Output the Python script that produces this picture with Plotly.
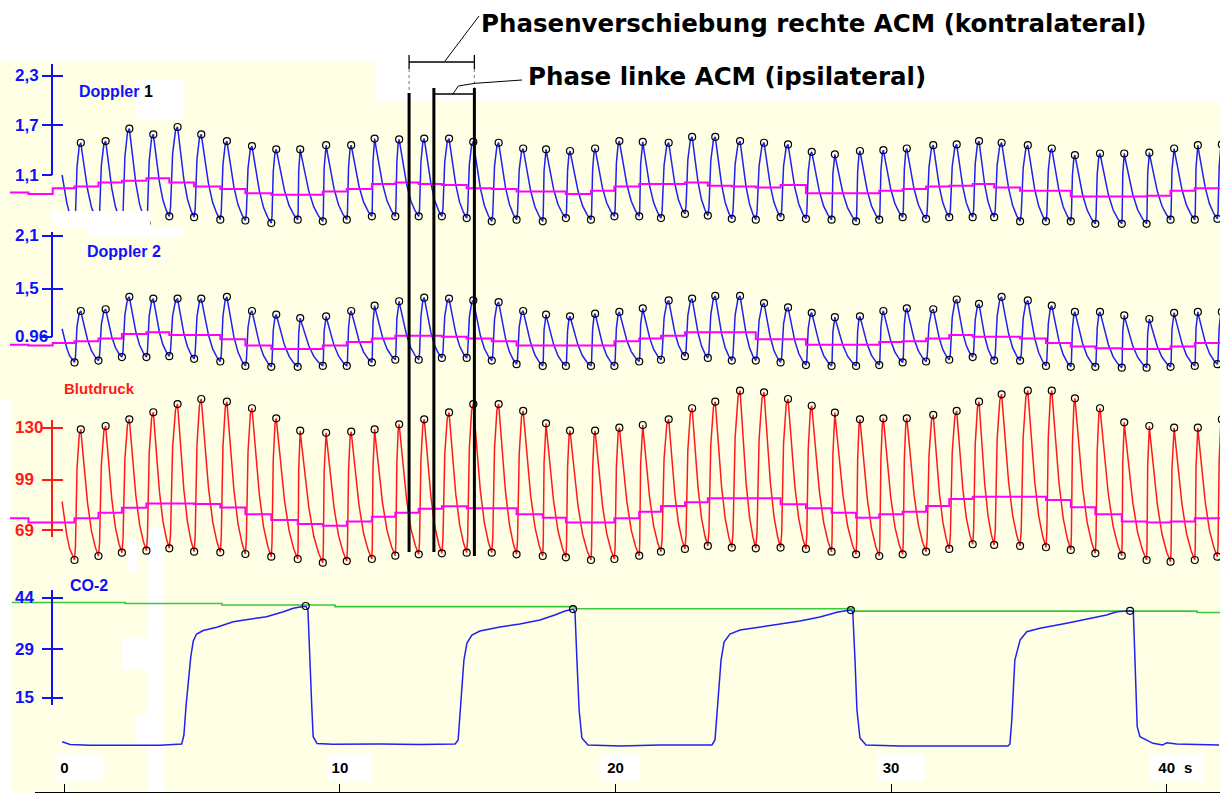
import plotly.graph_objects as go

W, H = 1220, 793

# ---------------------------------------------------------------- data
# beat timing in seconds: end-diastolic trough and systolic peak of each beat
trough_s = [0.37, 1.24, 2.09, 2.98, 3.81, 4.71, 5.66, 6.57, 7.51, 8.47,
            9.38, 10.25, 11.16, 12.01, 12.86, 13.70, 14.60, 15.51, 16.41, 17.36,
            18.20, 19.11, 19.96, 20.86, 21.65, 22.52, 23.35, 24.22, 25.09, 25.99,
            26.91, 27.84, 28.73, 29.57, 30.42, 31.27, 32.11, 32.96, 33.74, 34.68,
            35.62, 36.52, 37.41, 38.37, 39.27, 40.14, 41.02, 41.84]
peak_s = [0.60, 1.50, 2.36, 3.23, 4.11, 4.97, 5.90, 6.81, 7.69, 8.56,
          9.50, 10.41, 11.26, 12.15, 13.06, 13.96, 14.84, 15.76, 16.65, 17.48,
          18.35, 19.26, 20.14, 20.99, 21.93, 22.78, 23.62, 24.52, 25.39, 26.26,
          27.12, 27.96, 28.87, 29.72, 30.57, 31.53, 32.38, 33.19, 34.01, 34.96,
          35.83, 36.67, 37.58, 38.46, 39.37, 40.27, 41.13, 42.00]
start_s = -0.08

# beat-to-beat mean segments that precede the first recorded beat
pre_mean_s = [-1.97, -1.30, -0.42]

# Doppler 1 (rechte ACM)
d1_peak = [1.49, 1.51, 1.66, 1.59, 1.68, 1.59, 1.51, 1.45, 1.41, 1.41,
           1.46, 1.46, 1.54, 1.53, 1.54, 1.54, 1.50, 1.49, 1.42, 1.41,
           1.39, 1.42, 1.51, 1.50, 1.49, 1.56, 1.56, 1.51, 1.49, 1.47,
           1.38, 1.35, 1.39, 1.40, 1.42, 1.46, 1.47, 1.51, 1.49, 1.46,
           1.42, 1.34, 1.36, 1.36, 1.37, 1.42, 1.46, 1.47]
d1_trough = [0.52, 0.52, 0.52, 0.52, 0.60, 0.59, 0.56, 0.55, 0.52, 0.56,
             0.54, 0.56, 0.60, 0.60, 0.60, 0.60, 0.58, 0.54, 0.56, 0.54,
             0.58, 0.56, 0.60, 0.60, 0.58, 0.63, 0.61, 0.57, 0.56, 0.59,
             0.57, 0.56, 0.54, 0.56, 0.59, 0.57, 0.59, 0.59, 0.59, 0.54,
             0.54, 0.54, 0.51, 0.51, 0.51, 0.56, 0.56, 0.57]
d1_mean = [0.96, 1.01, 1.03, 1.06, 1.01, 0.96, 0.93, 0.88, 0.86, 0.86,
           0.90, 0.93, 0.99, 1.01, 0.99, 0.98, 0.94, 0.93, 0.90, 0.90,
           0.87, 0.91, 0.96, 0.99, 0.99, 1.01, 0.97, 0.96, 0.95, 0.98,
           0.88, 0.88, 0.88, 0.91, 0.93, 0.96, 0.97, 0.99, 0.95, 0.91,
           0.91, 0.84, 0.84, 0.84, 0.85, 0.91, 0.94, 0.94]
d1_pre_mean = [0.89, 0.87, 0.94]
d1_start = 1.10

# Doppler 2 (linke ACM)
d2_peak = [1.25, 1.27, 1.41, 1.39, 1.39, 1.39, 1.41, 1.25, 1.21, 1.17,
           1.19, 1.25, 1.31, 1.36, 1.40, 1.39, 1.37, 1.35, 1.25, 1.21,
           1.19, 1.22, 1.24, 1.28, 1.37, 1.39, 1.42, 1.42, 1.34, 1.29,
           1.23, 1.18, 1.19, 1.25, 1.28, 1.27, 1.38, 1.33, 1.41, 1.37,
           1.31, 1.24, 1.24, 1.20, 1.16, 1.23, 1.24, 1.24]
d2_trough = [0.67, 0.69, 0.73, 0.73, 0.74, 0.71, 0.68, 0.63, 0.62, 0.62,
             0.63, 0.63, 0.67, 0.70, 0.70, 0.72, 0.72, 0.69, 0.65, 0.63,
             0.63, 0.63, 0.63, 0.68, 0.70, 0.74, 0.72, 0.69, 0.69, 0.67,
             0.64, 0.63, 0.63, 0.64, 0.67, 0.68, 0.70, 0.73, 0.69, 0.69,
             0.63, 0.62, 0.62, 0.61, 0.61, 0.62, 0.63, 0.65]
d2_mean = [0.91, 0.94, 0.99, 1.01, 0.98, 0.98, 0.93, 0.86, 0.82, 0.82,
           0.86, 0.90, 0.94, 0.97, 0.97, 0.96, 0.94, 0.91, 0.86, 0.86,
           0.86, 0.86, 0.91, 0.94, 0.97, 1.01, 1.01, 1.01, 0.93, 0.93,
           0.87, 0.87, 0.87, 0.90, 0.91, 0.94, 0.98, 0.96, 0.96, 0.94,
           0.89, 0.85, 0.83, 0.82, 0.82, 0.85, 0.89, 0.89]
d2_pre_mean = [0.87, 0.86, 0.89]
d2_start = 1.05

# Blutdruck (mmHg)
bp_peak = [129.0, 131.0, 135.0, 139.2, 144.1, 147.1, 145.5, 141.6, 135.6, 128.2,
           127.0, 127.6, 129.0, 132.0, 135.0, 139.1, 144.0, 144.1, 140.0, 132.6,
           128.2, 128.2, 130.0, 131.6, 135.0, 141.6, 145.5, 152.1, 151.1, 147.1,
           143.1, 139.0, 135.0, 135.6, 135.6, 137.6, 140.0, 145.5, 149.9, 152.1,
           152.1, 147.5, 141.6, 133.2, 131.0, 130.0, 130.0, 135.0]
bp_trough = [51.1, 53.5, 55.5, 56.7, 58.1, 56.1, 55.7, 54.7, 53.1, 51.7,
             49.5, 50.5, 51.7, 53.7, 54.5, 55.1, 55.5, 55.5, 54.5, 53.5,
             52.7, 51.1, 51.7, 53.7, 56.1, 57.7, 59.5, 58.5, 58.1, 58.5,
             57.7, 56.1, 54.5, 53.5, 54.5, 56.1, 57.7, 60.5, 60.1, 59.5,
             58.7, 57.1, 55.1, 53.7, 51.1, 50.1, 51.1, 53.1]
bp_mean = [76.0, 79.3, 82.3, 84.8, 84.8, 84.5, 82.4, 78.4, 75.0, 72.6,
           71.6, 74.0, 76.9, 79.3, 81.7, 83.1, 81.9, 81.9, 78.4, 76.3,
           73.4, 73.4, 76.0, 79.9, 83.3, 85.5, 87.9, 87.9, 87.9, 84.3,
           81.9, 79.3, 76.3, 78.4, 79.9, 83.3, 87.5, 88.9, 88.9, 88.9,
           86.9, 82.5, 78.4, 74.0, 73.4, 74.0, 76.0, 76.0]
bp_pre_mean = [76.0, 73.4, 73.4]
bp_start = 86.0

# CO-2 (mmHg) capnogram
co2_s = [-0.08, 0.21, 0.93, 2.38, 3.47, 4.26, 4.34, 4.42, 4.50, 4.59,
         4.68, 4.80, 5.04, 5.53, 6.13, 6.74, 7.34, 7.95, 8.31, 8.66,
         8.77, 8.84, 8.91, 8.98, 9.03, 9.17, 9.75, 11.45, 12.91, 14.18,
         14.29, 14.39, 14.50, 14.61, 14.79, 15.08, 15.81, 16.53, 17.26, 17.80,
         18.17, 18.46, 18.53, 18.60, 18.68, 18.78, 19.00, 20.16, 21.61, 23.50,
         23.61, 23.72, 23.83, 23.94, 24.15, 24.52, 25.24, 25.97, 26.69, 27.42,
         28.07, 28.54, 28.61, 28.69, 28.76, 28.87, 29.09, 30.32, 32.50, 34.24,
         34.31, 34.38, 34.49, 34.68, 34.92, 35.40, 36.37, 37.10, 37.82, 38.19,
         38.67, 38.79, 38.85, 38.93, 39.03, 39.50, 39.86, 40.00, 40.36, 41.90]
co2_val = [2.24, 1.42, 1.19, 1.28, 1.19, 1.57, 4.18, 12.88, 20.13, 26.89,
           31.44, 33.47, 34.49, 35.42, 37.04, 37.74, 38.49, 39.94, 40.93, 41.45,
           41.45, 40.43, 23.03, 12.39, 3.69, 1.71, 1.48, 1.57, 1.42, 1.57,
           2.73, 14.33, 25.93, 30.86, 33.18, 34.34, 35.50, 36.37, 37.53, 38.98,
           40.14, 40.72, 39.85, 25.93, 11.43, 3.31, 1.28, 0.99, 1.28, 1.28,
           2.73, 14.33, 25.93, 31.15, 33.47, 34.63, 35.50, 36.37, 37.24, 38.40,
           39.85, 40.43, 39.85, 25.93, 11.43, 3.31, 1.28, 0.99, 0.99, 0.99,
           1.57, 8.53, 25.93, 31.73, 34.14, 35.13, 36.58, 37.74, 38.98, 39.94,
           40.23, 39.94, 26.89, 6.59, 3.69, 1.77, 1.28, 1.95, 1.57, 1.28]
co2_peak_s = [8.76, 18.46, 28.54, 38.67]
co2_peak_val = [41.6, 40.7, 40.4, 40.2]
etco2_s = [-1.90, 2.20, 5.72, 9.82, 18.53, 28.60, 41.10]
etco2_val = [42.6, 42.3, 41.9, 41.4, 40.8, 40.1, 39.7]

# time axis labels
time_ticks = [0, 10, 20, 30, 40]
time_labels = ["0", "10", "20", "30", "40"]

# pulse contour: upstroke (trough -> peak) and run-off (peak -> next trough),
# as fractions of the interval and of the beat amplitude
rise_t = [0.0, 0.15, 0.40, 0.75, 1.0]
rise_a = [0.0, 0.10, 0.70, 0.96, 1.0]
fall_t = [0.0, 0.06, 0.20, 0.38, 0.60, 0.82, 1.0]
fall_a = [1.0, 0.90, 0.68, 0.42, 0.20, 0.07, 0.0]

# ---------------------------------------------------------------- layout helpers
X0_PX, PX_PER_S = 64.3, 27.56          # time axis: 0 s position and scale
x_range = [(0 - X0_PX) / PX_PER_S, (W - X0_PX) / PX_PER_S]


def py(p):
    return 1 - p / H


def px(p):
    return p / W


def frame(cal_hi, cal_lo, top, bot):
    """Domain/range so that the two calibration values sit at the given pixel rows."""
    (v1, p1), (v2, p2) = cal_hi, cal_lo
    k = (p2 - p1) / (v1 - v2)

    def val(p):
        return v1 - (p - p1) / k
    return dict(domain=[py(bot), py(top)], range=[val(bot), val(top)])


def pulse_curve(start_v, peaks, troughs):
    xs, ys = [start_s], [start_v]
    for ft, fa in zip(fall_t[1:], fall_a[1:]):
        xs.append(start_s + ft * (trough_s[0] - start_s))
        ys.append(troughs[0] + fa * (start_v - troughs[0]))
    n = len(peaks)
    for i in range(n):
        tt, tp, vt, vp = trough_s[i], peak_s[i], troughs[i], peaks[i]
        for ft, fa in zip(rise_t[1:], rise_a[1:]):
            xs.append(tt + ft * (tp - tt))
            ys.append(vt + fa * (vp - vt))
        if i + 1 < n:
            tn, vn = trough_s[i + 1], troughs[i + 1]
            for ft, fa in zip(fall_t[1:], fall_a[1:]):
                xs.append(tp + ft * (tn - tp))
                ys.append(vn + fa * (vp - vn))
    return xs, ys


BLUE = "#2020F0"
LBLUE = "#1010FF"
RED = "#FF1A1A"
MAGENTA = "#FF00FF"
GREEN = "#3CC83C"
BG = "#FFFFE6"
AXFONT = "Liberation Sans"

channels = [
    dict(cal=((2.3, 75.7), (1.1, 175.0)), band=(60, 240), ax=(64, 175),
         ticks=[1.1, 1.7, 2.3], text=["1,1", "1,7", "2,3"], color=BLUE, tcol=LBLUE,
         peaks=d1_peak, troughs=d1_trough, mean=d1_mean, pre=d1_pre_mean, start=d1_start),
    dict(cal=((2.1, 235.7), (0.96, 336.7)), band=(225, 380), ax=(232, 336.7),
         ticks=[0.96, 1.5, 2.1], text=["0.96", "1,5", "2,1"], color=BLUE, tcol=LBLUE,
         peaks=d2_peak, troughs=d2_trough, mean=d2_mean, pre=d2_pre_mean, start=d2_start),
    dict(cal=((130, 427.7), (69, 530.0)), band=(370, 575), ax=(420, 537),
         ticks=[69, 99, 130], text=["69", "99", "130"], color=RED, tcol=RED,
         peaks=bp_peak, troughs=bp_trough, mean=bp_mean, pre=bp_pre_mean, start=bp_start),
    dict(cal=((44, 597.7), (15, 697.7)), band=(570, 790), ax=(590, 705),
         ticks=[15, 29, 44], text=["15", "29", "44"], color=BLUE, tcol=LBLUE),
]

fig = go.Figure()
circ = dict(symbol="circle-open", size=7, color="black", line=dict(width=1.2, color="black"))

for i, ch in enumerate(channels[:3]):
    ya = "y" if i == 0 else f"y{i + 1}"
    xs, ys = pulse_curve(ch["start"], ch["peaks"], ch["troughs"])
    fig.add_trace(go.Scatter(x=xs, y=ys, xaxis="x", yaxis=ya, mode="lines",
                             line=dict(color=ch["color"], width=1.5), hoverinfo="skip"))
    mx = pre_mean_s + trough_s + [x_range[1]]
    my = ch["pre"] + ch["mean"] + [ch["mean"][-1]]
    fig.add_trace(go.Scatter(x=mx, y=my, xaxis="x", yaxis=ya, mode="lines",
                             line=dict(color=MAGENTA, width=2, shape="hv"), hoverinfo="skip"))
    fig.add_trace(go.Scatter(x=peak_s + trough_s, y=ch["peaks"] + ch["troughs"],
                             xaxis="x", yaxis=ya, mode="markers", marker=circ,
                             hoverinfo="skip"))

# CO-2 channel
fig.add_trace(go.Scatter(x=etco2_s + [x_range[1]], y=etco2_val + [etco2_val[-1]],
                         xaxis="x", yaxis="y4", mode="lines",
                         line=dict(color=GREEN, width=1.6, shape="hv"), hoverinfo="skip"))
fig.add_trace(go.Scatter(x=co2_s, y=co2_val, xaxis="x", yaxis="y4", mode="lines",
                         line=dict(color=BLUE, width=1.5), hoverinfo="skip"))
fig.add_trace(go.Scatter(x=co2_peak_s, y=co2_peak_val, xaxis="x", yaxis="y4",
                         mode="markers", marker=circ, hoverinfo="skip"))

layout = dict(
    width=W, height=H, margin=dict(l=0, r=0, t=0, b=0, pad=0, autoexpand=False),
    paper_bgcolor=BG, plot_bgcolor="rgba(0,0,0,0)", showlegend=False,
    xaxis=dict(domain=[0, 1], range=x_range, visible=False, anchor="y"),
    xaxis2=dict(domain=[px(35), 1], range=[(35 - X0_PX) / PX_PER_S, x_range[1]],
                anchor="free", position=py(792), showline=True, linecolor="black",
                linewidth=1, ticks="inside", ticklen=8, tickcolor="black",
                tickvals=time_ticks, ticktext=time_labels,
                ticklabelposition="inside", ticklabelstandoff=8,
                showgrid=False, zeroline=False,
                tickfont=dict(family=AXFONT, size=15, color="black", weight="bold")),
)

axis_x = px(52.3)
for i, ch in enumerate(channels):
    key = "yaxis" if i == 0 else f"yaxis{i + 1}"
    f = frame(ch["cal"][0], ch["cal"][1], *ch["band"])
    layout[key] = dict(domain=f["domain"], range=f["range"], anchor="x", visible=False)

    g = frame(ch["cal"][0], ch["cal"][1], *ch["ax"])
    n_lab, n_out = 5 + i, 9 + i
    layout[f"yaxis{n_lab}"] = dict(
        domain=g["domain"], range=g["range"], anchor="free", position=axis_x,
        showline=True, linecolor=ch["tcol"], linewidth=1.5, showgrid=False, zeroline=False,
        ticks="inside", ticklen=10, tickwidth=1.5, tickcolor=ch["tcol"],
        tickvals=ch["ticks"], showticklabels=False)
    layout[f"yaxis{n_out}"] = dict(
        overlaying=f"y{n_lab}", range=g["range"], anchor="free", position=axis_x,
        showline=False, showgrid=False, zeroline=False, showticklabels=False,
        ticks="outside", ticklen=10, tickwidth=1.5, tickcolor=ch["tcol"],
        tickvals=ch["ticks"])
    for n in (n_lab, n_out):
        fig.add_trace(go.Scatter(x=[None], y=[None], xaxis="x2", yaxis=f"y{n}",
                                 mode="lines", hoverinfo="skip"))
    # tick labels, left-aligned in the margin at the tick values
    for v, s in zip(ch["ticks"], ch["text"]):
        fig.add_annotation(text=s, xref="paper", yref=f"y{n_lab}", x=px(13), y=v,
                           xanchor="left", yanchor="middle", showarrow=False,
                           font=dict(family=AXFONT, size=17, color=ch["tcol"],
                                     weight="bold"))

fig.update_layout(**layout)

# white areas on the recording sheet
sheet_white = [(0, 0, 1220, 62), (375, 62, 1220, 101), (135, 80, 183, 120),
               (148, 527, 164, 793), (122, 637, 148, 670), (135, 715, 148, 748),
               (127, 540, 137, 572), (0, 400, 11, 793),
               (55, 754, 103, 781), (328, 754, 372, 781), (600, 754, 640, 781),
               (878, 754, 925, 781), (1150, 754, 1203, 781)]
for x0, y0, x1, y1 in sheet_white:
    fig.add_shape(type="rect", xref="paper", yref="paper", layer="below",
                  x0=px(x0), x1=px(x1), y0=py(y1), y1=py(y0),
                  fillcolor="white", line=dict(width=0))
for x0, y0, x1, y1 in [(52, 211, 150, 228), (90, 227, 182, 237)]:
    fig.add_shape(type="rect", xref="paper", yref="paper", layer="above",
                  x0=px(x0), x1=px(x1), y0=py(y1), y1=py(y0),
                  fillcolor="white", line=dict(width=0))

# phase markers (time in s, top and bottom rows)
phase_lines = [(12.51, 93, 552), (13.41, 88, 552), (14.88, 88, 556)]
for t, top, bot in phase_lines:
    fig.add_shape(type="line", xref="x", yref="paper", x0=t, x1=t,
                  y0=py(bot), y1=py(top), line=dict(color="black", width=3))
t1, t2, t3 = (p[0] for p in phase_lines)
thin = dict(color="black", width=1.3)
dots = dict(color="#777777", width=1, dash="dot")
for seg in [
    (t1, 62, t3, 62, thin), (t1, 55, t1, 69, thin), (t3, 55, t3, 69, thin),
    (t2, 94, t3, 94, thin), (t1, 69, t1, 93, dots), (t3, 69, t3, 88, dots),
]:
    xa, ya_, xb, yb, ln = seg
    fig.add_shape(type="line", xref="x", yref="paper", x0=xa, x1=xb,
                  y0=py(ya_), y1=py(yb), line=ln)
fig.add_shape(type="line", xref="paper", yref="paper", x0=px(445), y0=py(61),
              x1=px(479), y1=py(16), line=dict(color="black", width=1))
fig.add_shape(type="path", xref="paper", yref="paper",
              path=f"M {px(452.7)},{py(94.3)} L {px(458.3)},{py(86)} "
                   f"L {px(475)},{py(83.3)} L {px(522)},{py(80)}",
              line=dict(color="black", width=1))

TITLE = "DejaVu Sans"
ann = [
    dict(text="Phasenverschiebung rechte ACM (kontralateral)", x=479, y=23,
         size=24.5, color="black", family=TITLE),
    dict(text="Phase linke ACM (ipsilateral)", x=526, y=76,
         size=24.5, color="black", family=TITLE),
    dict(text="Doppler <span style='color:black'>1</span>", x=77, y=92,
         size=16, color=LBLUE, family=AXFONT),
    dict(text="Doppler 2", x=85, y=251, size=16, color=LBLUE, family=AXFONT),
    dict(text="Blutdruck", x=62, y=388, size=15, color=RED, family=AXFONT),
    dict(text="CO-2", x=68, y=585, size=16, color=LBLUE, family=AXFONT),
    dict(text="s", x=1182, y=767, size=15, color="black", family=AXFONT),
]
for a in ann:
    fig.add_annotation(text=a["text"], xref="paper", yref="paper",
                       x=px(a["x"]), y=py(a["y"]), xanchor="left", yanchor="middle",
                       showarrow=False,
                       font=dict(family=a["family"], size=a["size"], color=a["color"],
                                 weight="bold"))

fig.write_html("out.html")
